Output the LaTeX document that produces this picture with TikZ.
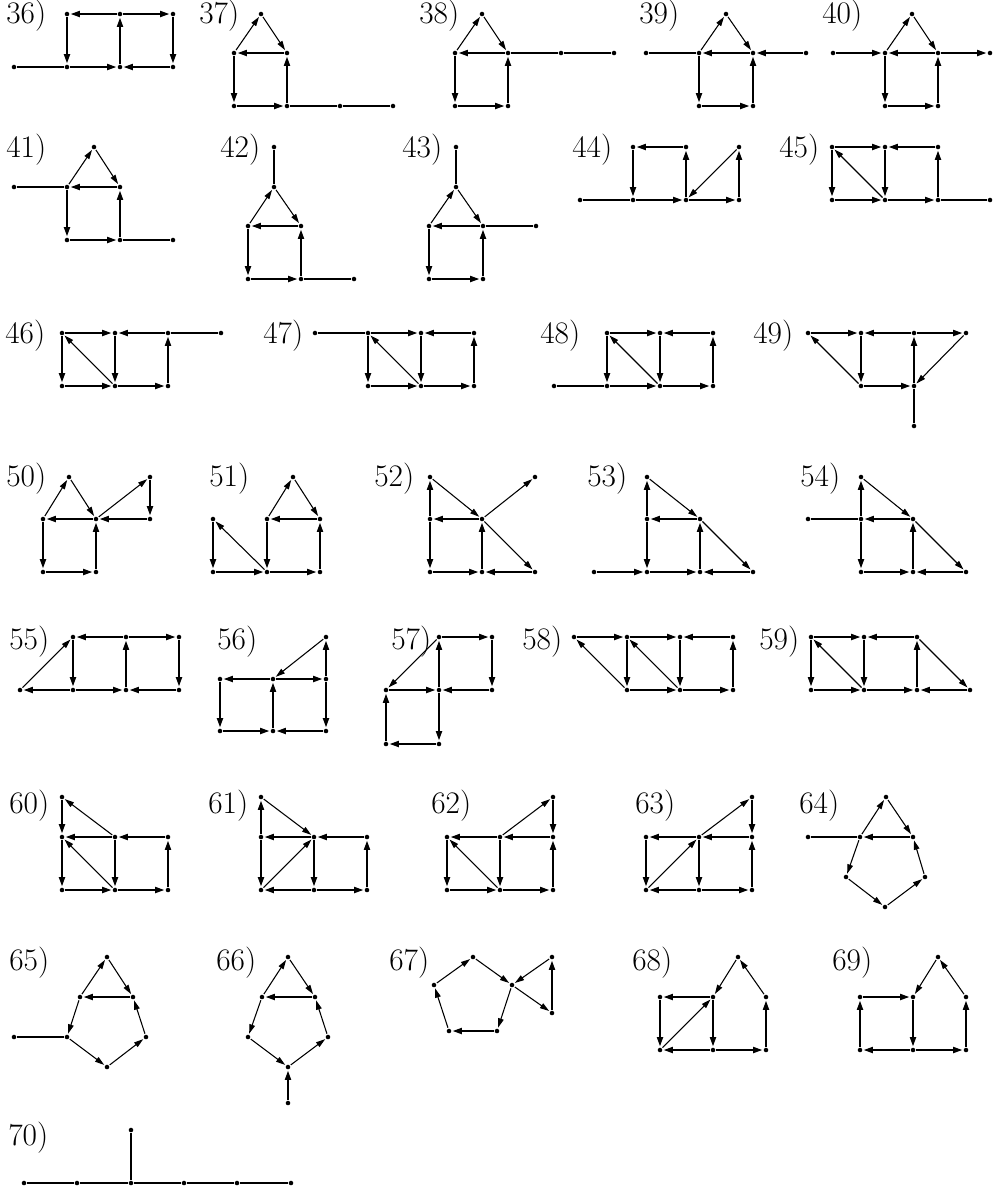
\documentclass[tikz,border=0pt]{standalone}
\usetikzlibrary{arrows.meta}
\tikzset{
 v/.style={circle,fill=black,inner sep=0pt,minimum size=3.4pt,outer sep=0.9pt},
 e/.style={line width=1.5pt,-{Triangle[length=7pt,width=4.4pt]}},
 d/.style={line width=0.8pt,-{Triangle[length=7pt,width=4.2pt]}},
 p/.style={line width=1.5pt},
 lab/.style={font=\fontsize{23.5}{28}\selectfont,inner sep=0pt,anchor=base west}
}
\newcommand\nd[2]{\node[v] (#1) at (#2) {};}
\begin{document}
\begin{tikzpicture}[x=0.75pt,y=-0.75pt]
\useasboundingbox (0,0) rectangle (995,1190);
% ---------- 36
\node[lab] (L36) at (6,23) {36)};
\nd{a36}{67,14}\nd{b36}{120,14}\nd{c36}{173,14}\nd{d36}{14,67}\nd{e36}{67,67}\nd{f36}{120,67}\nd{g36}{173,67}
\path (b36) edge[e] (a36) (b36) edge[e] (c36) (a36) edge[e] (e36) (f36) edge[e] (b36)
 (c36) edge[e] (g36) (d36) edge[p] (e36) (e36) edge[e] (f36) (g36) edge[e] (f36);
% ---------- 37
\node[lab] (L37) at (199,23) {37)};
\nd{t37}{261,14}\nd{l37}{234,53}\nd{r37}{287,53}\nd{bl37}{234,106}\nd{br37}{287,106}\nd{x37}{340,106}\nd{y37}{393,106}
\path (l37) edge[d] (t37) (t37) edge[d] (r37) (r37) edge[e] (l37) (l37) edge[e] (bl37)
 (bl37) edge[e] (br37) (br37) edge[e] (r37) (br37) edge[p] (x37) (x37) edge[p] (y37);
% ---------- 38
\node[lab] (L38) at (419,23) {38)};
\nd{t38}{482,14}\nd{l38}{455,53}\nd{r38}{508,53}\nd{bl38}{455,106}\nd{br38}{508,106}\nd{x38}{561,53}\nd{y38}{614,53}
\path (l38) edge[d] (t38) (t38) edge[d] (r38) (r38) edge[e] (l38) (l38) edge[e] (bl38)
 (bl38) edge[e] (br38) (br38) edge[e] (r38) (r38) edge[p] (x38) (x38) edge[p] (y38);
% ---------- 39
\node[lab] (L39) at (639,23) {39)};
\nd{w39}{646,53}\nd{l39}{699,53}\nd{t39}{726,14}\nd{r39}{753,53}\nd{z39}{806,53}\nd{bl39}{699,106}\nd{br39}{753,106}
\path (w39) edge[p] (l39) (l39) edge[d] (t39) (t39) edge[d] (r39) (r39) edge[e] (l39) (z39) edge[e] (r39)
 (l39) edge[e] (bl39) (bl39) edge[e] (br39) (br39) edge[e] (r39);
% ---------- 40
\node[lab] (L40) at (822,23) {40)};
\nd{w40}{833,53}\nd{l40}{885,53}\nd{t40}{912,14}\nd{r40}{938,53}\nd{z40}{990,53}\nd{bl40}{885,106}\nd{br40}{938,106}
\path (w40) edge[e] (l40) (l40) edge[d] (t40) (t40) edge[d] (r40) (r40) edge[e] (l40) (r40) edge[e] (z40)
 (l40) edge[e] (bl40) (bl40) edge[e] (br40) (br40) edge[e] (r40);
% ---------- 41
\node[lab] (L41) at (6,157) {41)};
\nd{t41}{94,147}\nd{w41}{14,187}\nd{l41}{67,187}\nd{r41}{120,187}\nd{bl41}{67,240}\nd{br41}{120,240}\nd{z41}{173,240}
\path (w41) edge[p] (l41) (l41) edge[d] (t41) (t41) edge[d] (r41) (r41) edge[e] (l41) (l41) edge[e] (bl41)
 (bl41) edge[e] (br41) (br41) edge[e] (r41) (br41) edge[p] (z41);
% ---------- 42
\node[lab] (L42) at (220,157) {42)};
\nd{s42}{274,147}\nd{t42}{274,187}\nd{l42}{248,226}\nd{r42}{301,226}\nd{bl42}{248,279}\nd{br42}{301,279}\nd{z42}{354,279}
\path (s42) edge[p] (t42) (l42) edge[d] (t42) (t42) edge[d] (r42) (r42) edge[e] (l42) (l42) edge[e] (bl42)
 (bl42) edge[e] (br42) (br42) edge[e] (r42) (br42) edge[p] (z42);
% ---------- 43
\node[lab] (L43) at (402,157) {43)};
\nd{s43}{456,147}\nd{t43}{456,187}\nd{l43}{429,226}\nd{r43}{483,226}\nd{z43}{536,226}\nd{bl43}{429,279}\nd{br43}{483,279}
\path (s43) edge[p] (t43) (l43) edge[d] (t43) (t43) edge[d] (r43) (r43) edge[e] (l43) (r43) edge[p] (z43)
 (l43) edge[e] (bl43) (bl43) edge[e] (br43) (br43) edge[e] (r43);
% ---------- 44
\node[lab] (L44) at (572,157) {44)};
\nd{a44}{633,147}\nd{b44}{686,147}\nd{c44}{739,147}\nd{w44}{580,200}\nd{d44}{633,200}\nd{e44}{686,200}\nd{f44}{739,200}
\path (b44) edge[e] (a44) (a44) edge[e] (d44) (e44) edge[e] (b44) (c44) edge[d] (e44) (f44) edge[e] (c44)
 (w44) edge[p] (d44) (d44) edge[e] (e44) (e44) edge[e] (f44);
% ---------- 45
\node[lab] (L45) at (779,157) {45)};
\nd{a45}{832,147}\nd{b45}{885,147}\nd{c45}{938,147}\nd{d45}{832,200}\nd{e45}{885,200}\nd{f45}{938,200}\nd{z45}{990,200}
\path (a45) edge[e] (b45) (c45) edge[e] (b45) (a45) edge[e] (d45) (e45) edge[d] (a45) (b45) edge[e] (e45)
 (d45) edge[e] (e45) (e45) edge[e] (f45) (f45) edge[e] (c45) (f45) edge[p] (z45);
% ---------- 46
\node[lab] (L46) at (5,343) {46)};
\nd{a46}{62,333}\nd{b46}{115,333}\nd{c46}{168,333}\nd{z46}{221,333}\nd{d46}{62,386}\nd{e46}{115,386}\nd{f46}{168,386}
\path (a46) edge[e] (b46) (c46) edge[e] (b46) (c46) edge[p] (z46) (a46) edge[e] (d46) (e46) edge[d] (a46)
 (b46) edge[e] (e46) (d46) edge[e] (e46) (e46) edge[e] (f46) (f46) edge[e] (c46);
% ---------- 47
\node[lab] (L47) at (263,343) {47)};
\nd{w47}{315,333}\nd{a47}{368,333}\nd{b47}{421,333}\nd{c47}{474,333}\nd{d47}{368,386}\nd{e47}{421,386}\nd{f47}{474,386}
\path (w47) edge[p] (a47) (a47) edge[e] (b47) (c47) edge[e] (b47) (a47) edge[e] (d47) (e47) edge[d] (a47)
 (b47) edge[e] (e47) (d47) edge[e] (e47) (e47) edge[e] (f47) (f47) edge[e] (c47);
% ---------- 48
\node[lab] (L48) at (540,343) {48)};
\nd{a48}{607,333}\nd{b48}{660,333}\nd{c48}{713,333}\nd{w48}{554,386}\nd{d48}{607,386}\nd{e48}{660,386}\nd{f48}{713,386}
\path (a48) edge[e] (b48) (c48) edge[e] (b48) (a48) edge[e] (d48) (e48) edge[d] (a48) (b48) edge[e] (e48)
 (w48) edge[p] (d48) (d48) edge[e] (e48) (e48) edge[e] (f48) (f48) edge[e] (c48);
% ---------- 49
\node[lab] (L49) at (753,343) {49)};
\nd{a49}{808,333}\nd{b49}{861,333}\nd{c49}{914,333}\nd{g49}{966,333}\nd{e49}{861,386}\nd{f49}{914,386}\nd{h49}{914,426}
\path (a49) edge[e] (b49) (c49) edge[e] (b49) (c49) edge[e] (g49) (e49) edge[d] (a49) (b49) edge[e] (e49)
 (e49) edge[e] (f49) (f49) edge[e] (c49) (g49) edge[d] (f49) (f49) edge[p] (h49);
% ---------- 50
\node[lab] (L50) at (6,486) {50)};
\nd{t50}{69,477}\nd{x50}{150,477}\nd{l50}{43,519}\nd{r50}{96,519}\nd{y50}{150,519}\nd{bl50}{43,572}\nd{br50}{96,572}
\path (l50) edge[d] (t50) (t50) edge[d] (r50) (r50) edge[e] (l50) (y50) edge[e] (r50) (r50) edge[d] (x50)
 (x50) edge[e] (y50) (l50) edge[e] (bl50) (bl50) edge[e] (br50) (br50) edge[e] (r50);
% ---------- 51
\node[lab] (L51) at (209,486) {51)};
\nd{w51}{213,519}\nd{t51}{293,477}\nd{l51}{267,519}\nd{r51}{320,519}\nd{a51}{213,572}\nd{b51}{267,572}\nd{c51}{320,572}
\path (w51) edge[e] (a51) (b51) edge[d] (w51) (a51) edge[e] (b51) (l51) edge[d] (t51) (t51) edge[d] (r51)
 (r51) edge[e] (l51) (l51) edge[e] (b51) (b51) edge[e] (c51) (c51) edge[e] (r51);
% ---------- 52
\node[lab] (L52) at (374,486) {52)};
\nd{s52}{430,477}\nd{x52}{535,477}\nd{a52}{430,519}\nd{b52}{482,519}\nd{d52}{430,572}\nd{e52}{482,572}\nd{f52}{535,572}
\path (a52) edge[e] (s52) (s52) edge[d] (b52) (b52) edge[e] (a52) (b52) edge[d] (x52) (a52) edge[e] (d52)
 (b52) edge[d] (f52) (d52) edge[e] (e52) (e52) edge[e] (b52) (f52) edge[e] (e52);
% ---------- 53
\node[lab] (L53) at (587,486) {53)};
\nd{s53}{647,477}\nd{a53}{647,519}\nd{b53}{700,519}\nd{w53}{594,572}\nd{d53}{647,572}\nd{e53}{700,572}\nd{f53}{753,572}
\path (a53) edge[e] (s53) (s53) edge[d] (b53) (b53) edge[e] (a53) (a53) edge[e] (d53) (b53) edge[d] (f53)
 (w53) edge[e] (d53) (d53) edge[e] (e53) (e53) edge[e] (b53) (f53) edge[e] (e53);
% ---------- 54
\node[lab] (L54) at (800,486) {54)};
\nd{s54}{861,477}\nd{w54}{808,519}\nd{a54}{861,519}\nd{b54}{913,519}\nd{d54}{861,572}\nd{e54}{913,572}\nd{f54}{966,572}
\path (a54) edge[e] (s54) (s54) edge[d] (b54) (w54) edge[p] (a54) (b54) edge[e] (a54) (a54) edge[e] (d54)
 (b54) edge[d] (f54) (d54) edge[e] (e54) (e54) edge[e] (b54) (f54) edge[e] (e54);
% ---------- 55
\node[lab] (L55) at (9,649) {55)};
\nd{a55}{73,637}\nd{b55}{126,637}\nd{c55}{179,637}\nd{w55}{20,690}\nd{d55}{73,690}\nd{e55}{126,690}\nd{f55}{179,690}
\path (w55) edge[d] (a55) (b55) edge[e] (a55) (b55) edge[e] (c55) (a55) edge[e] (d55) (e55) edge[e] (b55)
 (c55) edge[e] (f55) (d55) edge[e] (w55) (d55) edge[e] (e55) (f55) edge[e] (e55);
% ---------- 56
\node[lab] (L56) at (217,649) {56)};
\nd{x56}{326,637}\nd{a56}{220,679}\nd{b56}{273,679}\nd{c56}{326,679}\nd{d56}{220,731}\nd{e56}{273,731}\nd{f56}{326,731}
\path (x56) edge[d] (b56) (b56) edge[e] (a56) (b56) edge[e] (c56) (c56) edge[e] (x56) (a56) edge[e] (d56)
 (e56) edge[e] (b56) (c56) edge[e] (f56) (d56) edge[e] (e56) (f56) edge[e] (e56);
% ---------- 57
\node[lab] (L57) at (391,649) {57)};
\nd{a57}{439,637}\nd{b57}{492,637}\nd{l57}{386,690}\nd{c57}{439,690}\nd{r57}{492,690}\nd{d57}{386,744}\nd{e57}{439,744}
\path (a57) edge[e] (b57) (a57) edge[d] (l57) (c57) edge[e] (a57) (b57) edge[e] (r57) (l57) edge[e] (c57)
 (r57) edge[e] (c57) (d57) edge[e] (l57) (c57) edge[e] (e57) (e57) edge[e] (d57);
% ---------- 58
\node[lab] (L58) at (522,649) {58)};
\nd{a58}{574,637}\nd{b58}{627,637}\nd{c58}{680,637}\nd{g58}{733,637}\nd{d58}{627,690}\nd{e58}{680,690}\nd{f58}{733,690}
\path (a58) edge[e] (b58) (b58) edge[e] (c58) (g58) edge[e] (c58) (d58) edge[d] (a58) (b58) edge[e] (d58)
 (e58) edge[d] (b58) (c58) edge[e] (e58) (d58) edge[e] (e58) (e58) edge[e] (f58) (f58) edge[e] (g58);
% ---------- 59
\node[lab] (L59) at (759,649) {59)};
\nd{a59}{811,637}\nd{b59}{864,637}\nd{c59}{917,637}\nd{d59}{811,690}\nd{e59}{864,690}\nd{f59}{917,690}\nd{z59}{970,690}
\path (a59) edge[e] (b59) (c59) edge[e] (b59) (a59) edge[e] (d59) (e59) edge[d] (a59) (b59) edge[e] (e59)
 (f59) edge[e] (c59) (c59) edge[d] (z59) (d59) edge[e] (e59) (e59) edge[e] (f59) (z59) edge[e] (f59);
% ---------- 60
\node[lab] (L60) at (9,813) {60)};
\nd{s60}{62,797}\nd{a60}{62,837}\nd{b60}{115,837}\nd{c60}{168,837}\nd{d60}{62,890}\nd{e60}{115,890}\nd{f60}{168,890}
\path (b60) edge[d] (s60) (s60) edge[e] (a60) (b60) edge[e] (a60) (c60) edge[e] (b60) (a60) edge[e] (d60)
 (e60) edge[d] (a60) (b60) edge[e] (e60) (d60) edge[e] (e60) (e60) edge[e] (f60) (f60) edge[e] (c60);
% ---------- 61
\node[lab] (L61) at (208,813) {61)};
\nd{s61}{261,797}\nd{a61}{261,837}\nd{b61}{314,837}\nd{c61}{367,837}\nd{d61}{261,890}\nd{e61}{314,890}\nd{f61}{367,890}
\path (a61) edge[e] (s61) (s61) edge[d] (b61) (b61) edge[e] (a61) (c61) edge[e] (b61) (a61) edge[e] (d61)
 (d61) edge[d] (b61) (b61) edge[e] (e61) (e61) edge[e] (d61) (e61) edge[e] (f61) (f61) edge[e] (c61);
% ---------- 62
\node[lab] (L62) at (431,813) {62)};
\nd{s62}{553,797}\nd{a62}{447,837}\nd{b62}{500,837}\nd{c62}{553,837}\nd{d62}{447,890}\nd{e62}{500,890}\nd{f62}{553,890}
\path (b62) edge[d] (s62) (s62) edge[e] (c62) (b62) edge[e] (a62) (c62) edge[e] (b62) (a62) edge[e] (d62)
 (e62) edge[d] (a62) (b62) edge[e] (e62) (d62) edge[e] (e62) (e62) edge[e] (f62) (f62) edge[e] (c62);
% ---------- 63
\node[lab] (L63) at (635,813) {63)};
\nd{s63}{752,797}\nd{a63}{646,837}\nd{b63}{699,837}\nd{c63}{752,837}\nd{d63}{646,890}\nd{e63}{699,890}\nd{f63}{752,890}
\path (b63) edge[d] (s63) (s63) edge[e] (c63) (b63) edge[e] (a63) (c63) edge[e] (b63) (a63) edge[e] (d63)
 (d63) edge[d] (b63) (b63) edge[e] (e63) (e63) edge[e] (d63) (e63) edge[e] (f63) (f63) edge[e] (c63);
% ---------- 64
\node[lab] (L64) at (799,813) {64)};
\nd{w64}{808,837}\nd{l64}{860,837}\nd{t64}{886,797}\nd{r64}{913,837}\nd{A64}{846,877}\nd{C64}{925,877}\nd{B64}{885,907}
\path (w64) edge[p] (l64) (l64) edge[d] (t64) (t64) edge[d] (r64) (r64) edge[e] (l64) (l64) edge[d] (A64)
 (A64) edge[d] (B64) (B64) edge[d] (C64) (C64) edge[d] (r64);
% ---------- 65
\node[lab] (L65) at (9,970) {65)};
\nd{t65}{107,957}\nd{l65}{80,997}\nd{r65}{133,997}\nd{A65}{67,1037}\nd{C65}{146,1037}\nd{B65}{107,1067}\nd{w65}{14,1037}
\path (l65) edge[d] (t65) (t65) edge[d] (r65) (r65) edge[e] (l65) (l65) edge[d] (A65) (w65) edge[p] (A65)
 (A65) edge[d] (B65) (B65) edge[d] (C65) (C65) edge[d] (r65);
% ---------- 66
\node[lab] (L66) at (216,970) {66)};
\nd{t66}{288,957}\nd{l66}{262,997}\nd{r66}{315,997}\nd{A66}{248,1037}\nd{C66}{328,1037}\nd{B66}{288,1067}\nd{s66}{288,1103}
\path (l66) edge[d] (t66) (t66) edge[d] (r66) (r66) edge[e] (l66) (l66) edge[d] (A66) (A66) edge[d] (B66)
 (B66) edge[d] (C66) (C66) edge[d] (r66) (s66) edge[e] (B66);
% ---------- 67
\node[lab] (L67) at (389,970) {67)};
\nd{q67}{473,957}\nd{p67}{434,985}\nd{r67}{512,985}\nd{o67}{449,1031}\nd{u67}{497,1031}\nd{x67}{552,957}\nd{y67}{552,1013}
\path (p67) edge[d] (q67) (q67) edge[d] (r67) (r67) edge[d] (u67) (u67) edge[e] (o67) (o67) edge[d] (p67)
 (x67) edge[d] (r67) (y67) edge[e] (x67) (r67) edge[d] (y67);
% ---------- 68
\node[lab] (L68) at (632,970) {68)};
\nd{t68}{738,957}\nd{l68}{713,997}\nd{r68}{766,997}\nd{a68}{660,997}\nd{d68}{660,1050}\nd{e68}{713,1050}\nd{f68}{766,1050}
\path (l68) edge[e] (a68) (a68) edge[e] (d68) (d68) edge[d] (l68) (l68) edge[e] (e68) (e68) edge[e] (d68)
 (e68) edge[e] (f68) (f68) edge[e] (r68) (r68) edge[d] (t68) (t68) edge[d] (l68);
% ---------- 69
\node[lab] (L69) at (832,970) {69)};
\nd{t69}{938,957}\nd{l69}{913,997}\nd{r69}{966,997}\nd{a69}{860,997}\nd{d69}{860,1050}\nd{e69}{913,1050}\nd{f69}{966,1050}
\path (a69) edge[e] (l69) (d69) edge[e] (a69) (l69) edge[e] (e69) (e69) edge[e] (d69) (e69) edge[e] (f69)
 (f69) edge[e] (r69) (r69) edge[d] (t69) (t69) edge[d] (l69);
% ---------- 70
\node[lab] (L70) at (8,1145) {70)};
\nd{t70}{131,1130}\nd{n1}{24,1183}\nd{n2}{77,1183}\nd{n3}{131,1183}\nd{n4}{184,1183}\nd{n5}{237,1183}\nd{n6}{291,1183}
\path (n1) edge[p] (n2) (n2) edge[p] (n3) (n3) edge[p] (t70) (n3) edge[p] (n4) (n4) edge[p] (n5) (n5) edge[p] (n6);
\end{tikzpicture}
\end{document}
